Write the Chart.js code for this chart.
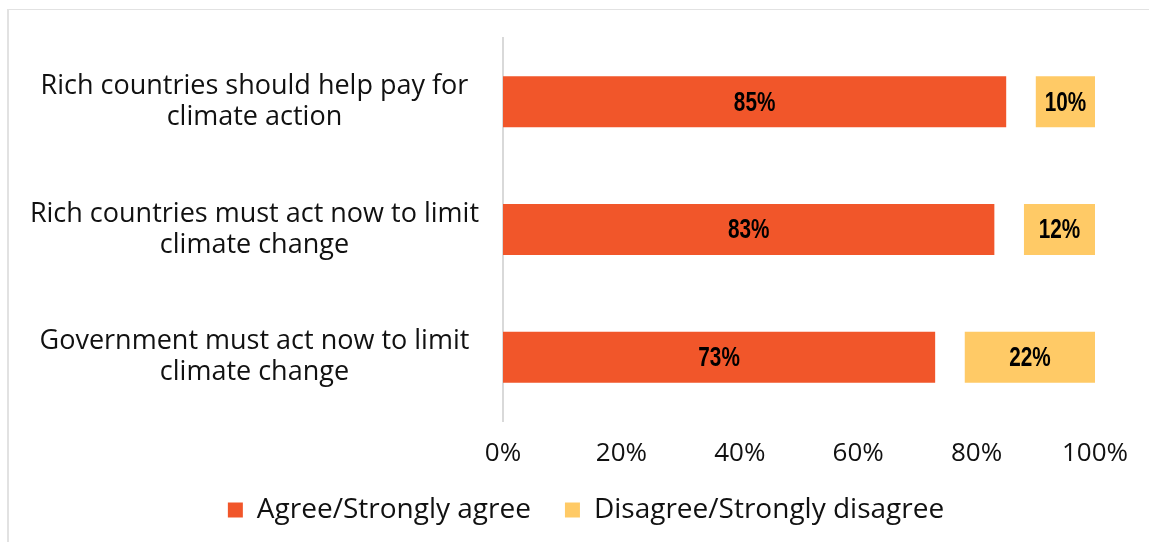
<!DOCTYPE html>
<html>
<head>
<meta charset="utf-8">
<script src="https://cdn.jsdelivr.net/npm/chart.js@4"></script>
<style>
  html, body { margin: 0; padding: 0; background: #fff; overflow: hidden; }
  .frame {
    position: absolute; left: 7px; top: 9px; width: 1200px; height: 600px;
    border-left: 2px solid #e2e2e2; border-top: 1px solid #e2e2e2;
  }
  .wrap { position: absolute; left: 0; top: 0; width: 1149px; height: 542px; }
</style>
</head>
<body>
<div class="frame"></div>
<div class="wrap"><canvas id="myChart"></canvas></div>
<script>
const categories = [
    ['Rich countries should help pay for', 'climate action'],
    ['Rich countries must act now to limit', 'climate change'],
    ['Government must act now to limit', 'climate change']
];
const agree = [85, 83, 73];
const unsure = [5, 5, 5];   // neither / don't know, left blank between the two bars
const disagree = [10, 12, 22];
const xTicks = [0, 20, 40, 60, 80, 100];

const textColor = '#111';
const labelFont = "'Open Sans', Lato, sans-serif";

// value labels in the middle of each visible bar, squeezed a little horizontally
const barLabels = {
    id: 'barLabels',
    afterDatasetsDraw(chart) {
        const ctx = chart.ctx;
        chart.data.datasets.forEach((ds, i) => {
            if (ds.hideLabel) return;
            chart.getDatasetMeta(i).data.forEach((bar, j) => {
                const p = bar.getProps(['x', 'y', 'base'], true);
                ctx.save();
                ctx.translate((p.x + p.base) / 2, p.y + 1);
                ctx.scale(0.74, 1);
                ctx.font = "bold 28px 'Liberation Sans', Arial, sans-serif";
                ctx.fillStyle = '#000';
                ctx.textAlign = 'center';
                ctx.textBaseline = 'middle';
                ctx.fillText(ds.data[j] + '%', 0, 0);
                ctx.restore();
            });
        });
    }
};

const data = {
    labels: categories,
    datasets: [{
        label: 'Agree/Strongly agree',
        backgroundColor: '#f1562a',
        data: agree,
    }, {
        label: 'Neither',
        backgroundColor: 'rgba(0,0,0,0)',
        hideLabel: true,
        data: unsure,
    }, {
        label: 'Disagree/Strongly disagree',
        backgroundColor: '#ffca66',
        data: disagree,
    }],
};

const config = {
    type: 'bar',
    data: data,
    plugins: [barLabels],
    options: {
        indexAxis: 'y',
        responsive: true,
        maintainAspectRatio: false,
        animation: false,
        categoryPercentage: 1,
        barPercentage: 0.4,
        layout: {
            // left padding also nudges the centred legend to the right
            padding: { top: 38, right: 54, bottom: 8, left: 77 }
        },
        plugins: {
            tooltip: { enabled: false },
            legend: {
                position: 'bottom',
                labels: {
                    color: textColor,
                    font: { family: labelFont, size: 28 },
                    boxWidth: 15,
                    boxHeight: 15,
                    padding: 34,
                    filter: item => item.text !== 'Neither'
                }
            }
        },
        scales: {
            x: {
                stacked: true,
                min: 0,
                max: 100,
                afterBuildTicks: scale => {
                    scale.ticks = xTicks.map(v => ({ value: v }));
                },
                afterFit: scale => {
                    scale.height = 41;
                    scale._computeLabelArea = () => undefined; // let tick text run past the box
                },
                grid: { display: false, drawTicks: false },
                border: { display: false },
                ticks: {
                    color: textColor,
                    font: { family: labelFont, size: 26 },
                    padding: 17,
                    callback: v => v + '%'
                }
            },
            y: {
                stacked: true,
                afterFit: scale => {
                    scale.width = 426;
                    scale.paddingTop = 0;
                    scale.paddingBottom = 0;
                    scale._computeLabelArea = () => undefined;
                },
                grid: { display: false, drawTicks: false },
                border: { display: true, color: '#d9d9d9', width: 2 },
                ticks: {
                    color: textColor,
                    crossAlign: 'center',
                    padding: 24,
                    font: { family: labelFont, size: 27, lineHeight: 1.15 }
                }
            }
        }
    }
};

const myChart = new Chart(
    document.getElementById('myChart'),
    config
);
</script>
</body>
</html>
